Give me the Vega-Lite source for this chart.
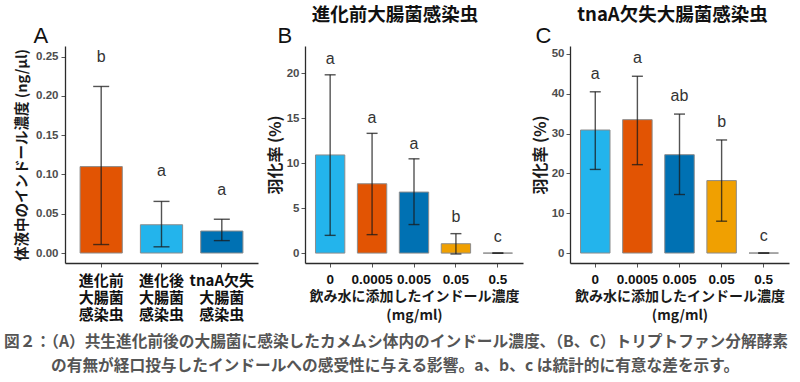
{
  "$schema": "https://vega.github.io/schema/vega-lite/v6.json",
  "padding": {"left": 4, "top": 5, "right": 4, "bottom": 4},
  "spacing": 47,
  "bounds": "flush",
  "resolve": {"scale": {"color": "independent"}},
  "config": {
    "view": {"stroke": null},
    "font": "Liberation Sans, Noto Sans CJK JP",
    "axis": {"grid": false, "domainColor": "#2b2b2b", "domainWidth": 1.3, "tickColor": "#555555", "tickSize": 4, "tickWidth": 1, "labelColor": "#4d4d4d", "labelFontWeight": "bold", "labelFontSize": 11.5, "titleFontWeight": "bold", "titleColor": "#1a1a1a", "titleFont": "Noto Sans CJK JP, Liberation Sans"},
    "title": {"font": "Noto Sans CJK JP", "fontWeight": "bold", "color": "#111111", "fontSize": 18.5}
  },
  "title": {
    "text": ["図２：（A）共生進化前後の大腸菌に感染したカメムシ体内のインドール濃度、（B、C）トリプトファン分解酵素", "\u200b\u3000\u3000\u3000の有無が経口投与したインドールへの感受性に与える影響。a、b、c は統計的に有意な差を示す。"],
    "orient": "bottom", "anchor": "start", "frame": "bounds", "dx": -10, "offset": 12,
    "fontSize": 15.7, "lineHeight": 24, "color": "#555555"
  },
  "datasets": {
    "A": [
      {"group": "進化前大腸菌感染虫", "mean": 0.110, "lo": 0.0108, "hi": 0.212, "sig": "b", "sigy": 0.250},
      {"group": "進化後大腸菌感染虫", "mean": 0.036, "lo": 0.0079, "hi": 0.0657, "sig": "a", "sigy": 0.1045},
      {"group": "tnaA欠失大腸菌感染虫", "mean": 0.028, "lo": 0.0158, "hi": 0.043, "sig": "a", "sigy": 0.080}
    ],
    "B": [
      {"conc": "0", "mean": 10.9, "lo": 1.97, "hi": 19.8, "sig": "a", "sigy": 21.6},
      {"conc": "0.0005", "mean": 7.7, "lo": 2.05, "hi": 13.3, "sig": "a", "sigy": 15.0},
      {"conc": "0.005", "mean": 6.78, "lo": 3.17, "hi": 10.47, "sig": "a", "sigy": 12.1},
      {"conc": "0.05", "mean": 1.04, "lo": -0.1, "hi": 2.16, "sig": "b", "sigy": 4.0},
      {"conc": "0.5", "mean": 0, "lo": 0, "hi": 0, "sig": "c", "sigy": 1.8}
    ],
    "C": [
      {"conc": "0", "mean": 30.9, "lo": 21.0, "hi": 40.5, "sig": "a", "sigy": 45.0},
      {"conc": "0.0005", "mean": 33.5, "lo": 22.2, "hi": 44.4, "sig": "a", "sigy": 49.0},
      {"conc": "0.005", "mean": 24.7, "lo": 14.7, "hi": 34.9, "sig": "ab", "sigy": 39.5},
      {"conc": "0.05", "mean": 18.2, "lo": 8.0, "hi": 28.4, "sig": "b", "sigy": 32.8},
      {"conc": "0.5", "mean": 0, "lo": 0, "hi": 0, "sig": "c", "sigy": 4.3}
    ]
  },
  "hconcat": [
    {
      "width": 193, "height": 217,
      "data": {"name": "A"},
      "title": {"text": "\u3000", "offset": 0, "frame": "bounds"},
      "resolve": {"axis": {"x": "independent"}},
      "layer": [
        {
          "encoding": {
            "x": {"field": "group", "type": "nominal", "sort": null, "scale": {"paddingInner": 0.3, "paddingOuter": 0.25},
              "axis": {"title": null, "labelAngle": 0, "labelFontSize": 15, "labelColor": "#111111", "labelFont": "Noto Sans CJK JP", "labelLineHeight": 17, "labelPadding": 6,
                "labelExpr": "[slice(datum.label, 0, -6), slice(datum.label, -6, -3), slice(datum.label, -3)]"}}
          },
          "layer": [
            {"mark": {"type": "bar", "stroke": "#8c8c8c", "strokeWidth": 1},
             "encoding": {
               "y": {"field": "mean", "type": "quantitative", "title": "体液中のインドール濃度 (ng/μl)",
                 "scale": {"domain": [-0.0127, 0.2635], "nice": false, "zero": false},
                 "axis": {"values": [0, 0.05, 0.1, 0.15, 0.2, 0.25], "format": ".2f", "titleFontSize": 14.5, "titlePadding": 5, "labelPadding": 3, "minExtent": 31, "maxExtent": 31}},
               "color": {"field": "group", "type": "nominal", "sort": null, "scale": {"range": ["#E25403", "#23B4EC", "#0071B3"]}, "legend": null}}},
            {"mark": {"type": "rule", "color": "#1a1a1a", "opacity": 0.75, "strokeWidth": 1.4},
             "encoding": {"y": {"field": "lo", "type": "quantitative", "title": "体液中のインドール濃度 (ng/μl)"}, "y2": {"field": "hi"}}},
            {"mark": {"type": "tick", "color": "#1a1a1a", "opacity": 0.75, "thickness": 1.4, "size": 16},
             "encoding": {"y": {"field": "lo", "type": "quantitative", "title": "体液中のインドール濃度 (ng/μl)"}}},
            {"mark": {"type": "tick", "color": "#1a1a1a", "opacity": 0.75, "thickness": 1.4, "size": 16},
             "encoding": {"y": {"field": "hi", "type": "quantitative", "title": "体液中のインドール濃度 (ng/μl)"}}}
          ]
        },
        {
          "mark": {"type": "text", "fontSize": 16, "color": "#333333", "font": "Liberation Sans"},
          "encoding": {
            "x": {"field": "group", "type": "nominal", "sort": null,
              "axis": {"orient": "top", "title": "A", "labels": false, "ticks": false, "domain": false, "titleAnchor": "start", "titleAlign": "left", "titleX": -32, "titleY": -4, "titleBaseline": "alphabetic", "titleFontSize": 22, "titleFontWeight": "normal", "titleFont": "Liberation Sans", "titleColor": "#111111"}},
            "y": {"field": "sigy", "type": "quantitative", "title": "体液中のインドール濃度 (ng/μl)"},
            "text": {"field": "sig"}
          }
        }
      ]
    },
    {
      "width": 218, "height": 217,
      "data": {"name": "B"},
      "title": {"text": "進化前大腸菌感染虫", "offset": 0, "frame": "bounds"},
      "resolve": {"axis": {"x": "independent"}},
      "layer": [
        {
          "encoding": {
            "x": {"field": "conc", "type": "nominal", "sort": null, "scale": {"paddingInner": 0.3, "paddingOuter": 0.25},
              "axis": {"title": ["飲み水に添加したインドール濃度", "(mg/ml)"], "labelAngle": 0, "labelFontSize": 13.5, "labelColor": "#111111", "labelPadding": 5, "titleFontSize": 14, "titlePadding": 4, "titleLineHeight": 19}}
          },
          "layer": [
            {"mark": {"type": "bar", "stroke": "#8c8c8c", "strokeWidth": 1},
             "encoding": {
               "y": {"field": "mean", "type": "quantitative", "title": "羽化率 (%)",
                 "scale": {"domain": [-1.1, 23.0], "nice": false, "zero": false},
                 "axis": {"values": [0, 5, 10, 15, 20], "titleFontSize": 16, "titlePadding": 6, "labelPadding": 2, "minExtent": 16, "maxExtent": 16}},
               "color": {"field": "conc", "type": "nominal", "sort": null, "scale": {"range": ["#23B4EC", "#E25403", "#0071B3", "#F0A001", "#bbbbbb"]}, "legend": null}}},
            {"mark": {"type": "rule", "color": "#1a1a1a", "opacity": 0.75, "strokeWidth": 1.4},
             "encoding": {"y": {"field": "lo", "type": "quantitative", "title": "羽化率 (%)"}, "y2": {"field": "hi"}}},
            {"mark": {"type": "tick", "color": "#1a1a1a", "opacity": 0.75, "thickness": 1.4, "size": 11},
             "encoding": {"y": {"field": "lo", "type": "quantitative", "title": "羽化率 (%)"}}},
            {"mark": {"type": "tick", "color": "#1a1a1a", "opacity": 0.75, "thickness": 1.4, "size": 11},
             "encoding": {"y": {"field": "hi", "type": "quantitative", "title": "羽化率 (%)"}}}
          ]
        },
        {
          "mark": {"type": "text", "fontSize": 16, "color": "#333333", "font": "Liberation Sans"},
          "encoding": {
            "x": {"field": "conc", "type": "nominal", "sort": null,
              "axis": {"orient": "top", "title": "B", "labels": false, "ticks": false, "domain": false, "titleAnchor": "start", "titleAlign": "left", "titleX": -28, "titleY": -4, "titleBaseline": "alphabetic", "titleFontSize": 22, "titleFontWeight": "normal", "titleFont": "Liberation Sans", "titleColor": "#111111"}},
            "y": {"field": "sigy", "type": "quantitative", "title": "羽化率 (%)"},
            "text": {"field": "sig"}
          }
        }
      ]
    },
    {
      "width": 219, "height": 217,
      "data": {"name": "C"},
      "title": {"text": "tnaA欠失大腸菌感染虫", "offset": 0, "frame": "bounds", "dx": 12},
      "resolve": {"axis": {"x": "independent"}},
      "layer": [
        {
          "encoding": {
            "x": {"field": "conc", "type": "nominal", "sort": null, "scale": {"paddingInner": 0.3, "paddingOuter": 0.25},
              "axis": {"title": ["飲み水に添加したインドール濃度", "(mg/ml)"], "labelAngle": 0, "labelFontSize": 13.5, "labelColor": "#111111", "labelPadding": 5, "titleFontSize": 14, "titlePadding": 4, "titleLineHeight": 19}}
          },
          "layer": [
            {"mark": {"type": "bar", "stroke": "#8c8c8c", "strokeWidth": 1},
             "encoding": {
               "y": {"field": "mean", "type": "quantitative", "title": "羽化率 (%)",
                 "scale": {"domain": [-2.5, 52.0], "nice": false, "zero": false},
                 "axis": {"values": [0, 10, 20, 30, 40, 50], "titleFontSize": 16, "titlePadding": 6, "labelPadding": 2, "minExtent": 16, "maxExtent": 16}},
               "color": {"field": "conc", "type": "nominal", "sort": null, "scale": {"range": ["#23B4EC", "#E25403", "#0071B3", "#F0A001", "#bbbbbb"]}, "legend": null}}},
            {"mark": {"type": "rule", "color": "#1a1a1a", "opacity": 0.75, "strokeWidth": 1.4},
             "encoding": {"y": {"field": "lo", "type": "quantitative", "title": "羽化率 (%)"}, "y2": {"field": "hi"}}},
            {"mark": {"type": "tick", "color": "#1a1a1a", "opacity": 0.75, "thickness": 1.4, "size": 11},
             "encoding": {"y": {"field": "lo", "type": "quantitative", "title": "羽化率 (%)"}}},
            {"mark": {"type": "tick", "color": "#1a1a1a", "opacity": 0.75, "thickness": 1.4, "size": 11},
             "encoding": {"y": {"field": "hi", "type": "quantitative", "title": "羽化率 (%)"}}}
          ]
        },
        {
          "mark": {"type": "text", "fontSize": 16, "color": "#333333", "font": "Liberation Sans"},
          "encoding": {
            "x": {"field": "conc", "type": "nominal", "sort": null,
              "axis": {"orient": "top", "title": "C", "labels": false, "ticks": false, "domain": false, "titleAnchor": "start", "titleAlign": "left", "titleX": -35, "titleY": -4, "titleBaseline": "alphabetic", "titleFontSize": 22, "titleFontWeight": "normal", "titleFont": "Liberation Sans", "titleColor": "#111111"}},
            "y": {"field": "sigy", "type": "quantitative", "title": "羽化率 (%)"},
            "text": {"field": "sig"}
          }
        }
      ]
    }
  ]
}
